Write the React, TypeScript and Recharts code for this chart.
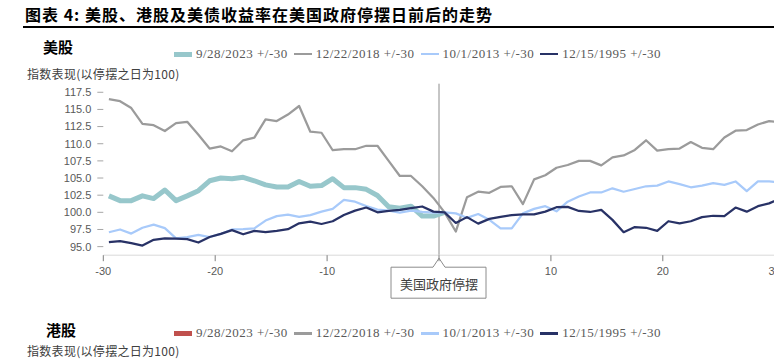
import React from 'react';
import { LineChart, Line, XAxis, YAxis, ReferenceLine } from 'recharts';

// days around the shutdown date
const days = [
  -30, -29, -28, -27, -26, -25, -24, -23, -22, -21, -20,
  -19, -18, -17, -16, -15, -14, -13, -12, -11, -10,
  -9, -8, -7, -6, -5, -4, -3, -2, -1, 0,
  1, 2, 3, 4, 5, 6, 7, 8, 9, 10,
  11, 12, 13, 14, 15, 16, 17, 18, 19, 20,
  21, 22, 23, 24, 25, 26, 27, 28, 29, 30
];

// 美股 index, shutdown day = 100
const us2023 = [
  102.4, 101.7, 101.7, 102.4, 102.0, 103.25, 101.7, 102.4, 103.15, 104.6, 105.0,
  104.9, 105.1, 104.6, 104.0, 103.7, 103.7, 104.5, 103.8, 103.9, 104.9,
  103.6, 103.6, 103.35, 102.45, 100.8, 100.6, 100.9, 99.45, 99.45, 100.0
];
const us2018 = [
  116.5, 116.2, 115.2, 112.9, 112.7, 111.85, 113.0, 113.2, 111.3, 109.3, 109.6,
  108.9, 110.5, 110.9, 113.55, 113.3, 114.25, 115.5, 111.75, 111.6, 109.05,
  109.2, 109.2, 109.7, 109.7, 107.5, 105.3, 105.3, 103.8, 102.1, 100.0,
  97.2, 102.2, 103.0, 102.85, 103.7, 103.8, 101.2, 104.8, 105.4, 106.5,
  106.9, 107.5, 107.5, 106.85, 108.0, 108.3, 109.1, 110.5, 109.0, 109.2,
  109.3, 110.25, 109.4, 109.2, 110.9, 111.9, 112.0, 112.8, 113.3, 113.1
];
const us2013 = [
  97.1, 97.5, 96.9, 97.75, 98.2, 97.7, 96.2, 96.4, 96.7, 96.4, 96.85,
  97.5, 97.55, 97.65, 98.8, 99.45, 99.65, 99.35, 99.6, 100.1, 100.5,
  101.8, 101.55, 100.9, 100.4, 100.25, 99.95, 100.25, 100.05, 99.95, 100.0,
  99.85, 99.2, 99.75, 98.9, 97.65, 97.65, 99.85, 100.5, 100.9, 100.15,
  101.55, 102.3, 102.9, 102.9, 103.5, 103.0, 103.4, 103.8, 103.9, 104.5,
  104.1, 103.65, 103.9, 104.25, 104.0, 104.5, 103.1, 104.5, 104.5, 104.4
];
const us1995 = [
  95.65, 95.8, 95.5, 95.15, 96.0, 96.2, 96.15, 96.1, 95.6, 96.4, 96.85,
  97.4, 96.8, 97.3, 97.1, 97.3, 97.55, 98.4, 98.65, 98.3, 98.7,
  99.6, 100.25, 100.7, 100.0, 100.2, 100.35, 100.6, 100.85, 100.1, 100.0,
  98.45, 99.3, 98.35, 99.05, 99.35, 99.6, 99.7, 99.7, 100.1, 100.75,
  100.8, 100.2, 100.05, 100.35, 98.9, 97.1, 97.85, 97.75, 97.3, 98.7,
  98.4, 98.7, 99.3, 99.5, 99.45, 100.7, 100.1, 100.9, 101.3, 102.0
];

const seriesNames = ['9/28/2023 +/-30', '12/22/2018 +/-30', '10/1/2013 +/-30', '12/15/1995 +/-30'];
const yTicks = [95, 97.5, 100, 102.5, 105, 107.5, 110, 112.5, 115, 117.5];
const xTickLabels = [-30, -20, -10, 0, 10, 20, 30];

const usSeries = [
  { key: 's2023', name: seriesNames[0], values: us2023, color: '#97C7CB', width: 5 },
  { key: 's2018', name: seriesNames[1], values: us2018, color: '#9B9B9B', width: 2.25 },
  { key: 's2013', name: seriesNames[2], values: us2013, color: '#A8CAFA', width: 2.25 },
  { key: 's1995', name: seriesNames[3], values: us1995, color: '#283266', width: 2.25 }
];

const hkLegend = [
  { name: seriesNames[0], color: '#C0504D', width: 5 },
  { name: seriesNames[1], color: '#9B9B9B', width: 3 },
  { name: seriesNames[2], color: '#A8CAFA', width: 3 },
  { name: seriesNames[3], color: '#283266', width: 3 }
];

const data = days.map((d, i) => {
  const row: any = { day: d };
  usSeries.forEach(s => {
    row[s.key] = i < s.values.length ? s.values[i] : null;
  });
  return row;
});

// tick marks sit half a day left of each point (category-style axis)
const xTicks = xTickLabels.map(v => v - 0.5);

const cjk = '"Noto Sans CJK SC", "Noto Sans", sans-serif';

const Callout = (props: any) => {
  const vb = props.viewBox;
  if (!vb) return null;
  const x = vb.x;
  const base = vb.y + vb.height;
  const top = base + 12;
  const d = `M${x - 48},${top} L${x - 6},${top} L${x},${base + 3} L${x + 6},${top} L${x + 47},${top} L${x + 47},${top + 31} L${x - 48},${top + 31} Z`;
  return (
    <g>
      <path d={d} fill="#fff" stroke="#8C8C8C" strokeWidth={1} />
      <text x={x} y={top + 16} textAnchor="middle" dominantBaseline="central" fontSize={13} fontFamily={cjk} fill="#404040">
        美国政府停摆
      </text>
    </g>
  );
};

const Legend = ({ items, top }: { items: { name: string; color: string; width: number }[]; top: number }) => (
  <div style={{ position: 'absolute', left: 174, top, height: 14, display: 'flex', alignItems: 'center' }}>
    {items.map(it => (
      <div key={it.name} style={{ display: 'flex', alignItems: 'center', marginRight: 6 }}>
        <div style={{ width: 18, height: it.width, background: it.color, marginRight: 4 }} />
        <span style={{ fontFamily: '"Liberation Serif", serif', fontSize: 13, letterSpacing: 0.5, color: '#595959', lineHeight: '14px' }}>
          {it.name}
        </span>
      </div>
    ))}
  </div>
);

const label = (text: string, left: number, top: number, size: number, bold: boolean, color: string, spacing = 0) => (
  <div style={{ position: 'absolute', left, top, fontFamily: cjk, fontSize: size, fontWeight: bold ? 700 : 400, color, lineHeight: `${size}px`, letterSpacing: spacing, whiteSpace: 'nowrap' }}>
    {text}
  </div>
);

export default function App() {
  return (
    <div style={{ position: 'fixed', left: 0, top: 0, width: 774, height: 363, overflow: 'hidden', background: '#fff' }}>
      {label('图表 4: 美股、港股及美债收益率在美国政府停摆日前后的走势', 25, 6, 16, true, '#000', 1)}
      <div style={{ position: 'absolute', left: 23, top: 26, width: 760, height: 1.5, background: '#000' }} />
      {label('美股', 43, 39, 15, true, '#000')}
      <Legend items={usSeries} top={47} />
      {label('指数表现(以停摆之日为100)', 27, 68, 12, false, '#404040', 0.3)}

      <div style={{ position: 'absolute', left: 0, top: 0 }}>
        <LineChart width={800} height={363} data={data} margin={{ top: 83.7, right: 14.1, bottom: 77.8, left: 0 }}>
          <XAxis
            type="number"
            dataKey="day"
            domain={[-30.5, 30.5]}
            ticks={xTicks}
            tickFormatter={(v: number) => (v + 0.5 === 0 ? '' : String(v + 0.5))}
            axisLine={{ stroke: '#D9D9D9' }}
            tickLine={{ stroke: '#7F7F7F' }}
            tickSize={6}
            tickMargin={6}
            height={30}
            tick={{ fill: '#595959', fontSize: 11, fontFamily: '"Liberation Sans", sans-serif' }}
          />
          <YAxis
            type="number"
            domain={[93.75, 118.75]}
            ticks={yTicks}
            tickFormatter={(v: number) => v.toFixed(1)}
            axisLine={false}
            tickLine={{ stroke: '#A6A6A6' }}
            tickSize={6}
            tickMargin={6}
            width={103.3}
            tick={{ fill: '#595959', fontSize: 11, fontFamily: '"Liberation Sans", sans-serif' }}
          />
          <ReferenceLine x={-0.5} stroke="#8C8C8C" strokeWidth={1} label={<Callout />} />
          {usSeries.map(s => (
            <Line
              key={s.key}
              type="linear"
              dataKey={s.key}
              stroke={s.color}
              strokeWidth={s.width}
              strokeLinejoin="round"
              dot={false}
              activeDot={false}
              connectNulls={false}
              isAnimationActive={false}
            />
          ))}
        </LineChart>
      </div>

      {label('港股', 46, 322, 15, true, '#000')}
      <Legend items={hkLegend} top={326} />
      {label('指数表现(以停摆之日为100)', 27, 345, 12, false, '#404040', 0.3)}
    </div>
  );
}
